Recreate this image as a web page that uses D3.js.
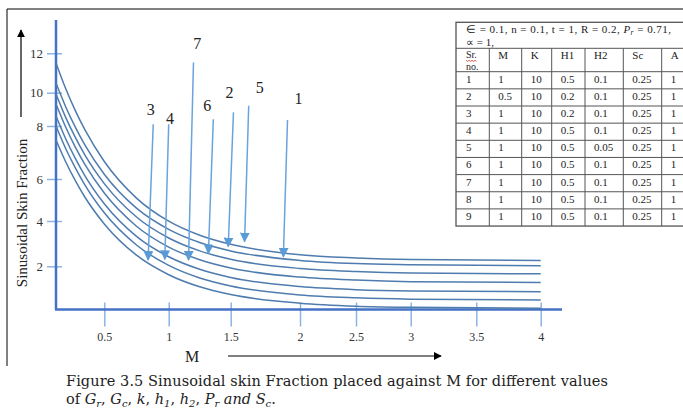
<!DOCTYPE html>
<html>
<head>
<meta charset="utf-8">
<script src="https://cdn.jsdelivr.net/npm/d3@7"></script>
<style>
  body { margin: 0; background: #fff; }
  svg { display: block; }
  text { font-family: "Liberation Serif", "Times New Roman", serif; }
  .wide { font-family: "DejaVu Serif", "Liberation Serif", serif; }
</style>
</head>
<body>
<script>
const width = 683;
const height = 410;

const mValues = [0, 0.1, 0.2, 0.3, 0.5, 0.75, 1, 1.25, 1.5, 2, 2.5, 3, 4];

// sinusoidal skin fraction, curves from top to bottom
const sf1 = [11.51, 10.21, 8.92, 7.85, 6.66, 5.09, 3.99, 3.37, 2.97, 2.51, 2.37, 2.30, 2.26];
const sf2 = [10.49, 9.16, 7.96, 7.28, 6.18, 4.61, 3.63, 3.05, 2.68, 2.26, 2.12, 2.07, 2.02];
const sf3 = [9.92, 8.52, 7.57, 6.90, 5.78, 4.19, 3.25, 2.68, 2.31, 1.90, 1.76, 1.69, 1.65];
const sf4 = [9.32, 7.96, 7.20, 6.54, 5.33, 3.77, 2.85, 2.29, 1.92, 1.50, 1.36, 1.29, 1.25];
const sf5 = [8.60, 7.52, 6.78, 6.12, 4.82, 3.32, 2.42, 1.86, 1.48, 1.06, 0.92, 0.86, 0.82];
const sf6 = [8.00, 7.15, 6.42, 5.71, 4.39, 2.94, 2.04, 1.46, 1.09, 0.67, 0.54, 0.48, 0.44];
const sf7 = [7.47, 6.65, 5.92, 5.13, 3.87, 2.49, 1.61, 1.05, 0.69, 0.29, 0.15, 0.10, 0.06];
const curves = [sf1, sf2, sf3, sf4, sf5, sf6, sf7];

const xTicks = [0.5, 1, 1.5, 2, 2.5, 3, 3.5, 4];
const yTicks = [2, 4, 6, 8, 10, 12];

// numbered pointer arrows: label spot, arrow start, arrow tip (M, value)
const arrowLabels = ["1", "2", "3", "4", "5", "6", "7"];
const labelAt = [[1.99, 9.66], [1.49, 10.02], [0.86, 9.02], [1.01, 8.46], [1.71, 10.27], [1.31, 9.26], [1.23, 12.51]];
const arrowFrom = [[1.91, 8.36], [1.52, 8.82], [0.88, 8.10], [1.00, 8.10], [1.63, 9.22], [1.36, 8.40], [1.20, 11.54]];
const arrowTo = [[1.88, 2.42], [1.48, 2.87], [0.84, 2.28], [0.97, 2.31], [1.60, 3.09], [1.32, 2.57], [1.16, 2.28]];

// parameter table
const tableHead = ["M", "K", "H1", "H2", "Sc", "A"];
const tableRows = [
  [1, 1, 10, 0.5, 0.1, 0.25, 1],
  [2, 0.5, 10, 0.2, 0.1, 0.25, 1],
  [3, 1, 10, 0.2, 0.1, 0.25, 1],
  [4, 1, 10, 0.5, 0.1, 0.25, 1],
  [5, 1, 10, 0.5, 0.05, 0.25, 1],
  [6, 1, 10, 0.5, 0.1, 0.25, 1],
  [7, 1, 10, 0.5, 0.1, 0.25, 1],
  [8, 1, 10, 0.5, 0.1, 0.25, 1],
  [9, 1, 10, 0.5, 0.1, 0.25, 1]
];

const svg = d3.select("body").append("svg")
  .attr("width", width)
  .attr("height", height);

// the hand-drawn axes are not evenly spaced, so piecewise scales
const x = d3.scaleLinear()
  .domain([0, 0.5, 1, 1.5, 2, 2.5, 3, 3.5, 4])
  .range([56, 104.3, 168.7, 230.7, 300, 356, 410.7, 476.3, 540.7]);
const y = d3.scaleLinear()
  .domain([0, 2, 4, 6, 8, 10, 12])
  .range([309.5, 266.3, 221, 179, 126, 92.7, 53.3]);

const defs = svg.append("defs");
function marker(id, color, size) {
  defs.append("marker")
    .attr("id", id)
    .attr("viewBox", "0 0 10 10")
    .attr("refX", 9)
    .attr("refY", 5)
    .attr("markerWidth", size)
    .attr("markerHeight", size)
    .attr("markerUnits", "userSpaceOnUse")
    .attr("orient", "auto")
    .append("path")
    .attr("d", "M0,0L10,5L0,10Z")
    .attr("fill", color);
}
marker("blueHead", "#5b9bd5", 10);
marker("blackHead", "#000", 8);

// frame
svg.append("path")
  .attr("d", "M7,366V9H690")
  .attr("fill", "none")
  .attr("stroke", "#000")
  .attr("stroke-width", 1);

// x ticks
const gx = svg.append("g")
  .attr("transform", `translate(0,${y(0)})`)
  .attr("font-family", null)
  .call(d3.axisBottom(x).tickValues(xTicks).tickSize(17).tickFormat(d => d));
gx.select(".domain").remove();
gx.selectAll(".tick line")
  .attr("y1", -7)
  .attr("stroke", "#8db4e2")
  .attr("stroke-width", 1.5);
gx.selectAll(".tick text")
  .attr("y", 31)
  .attr("dy", null)
  .attr("font-size", 12)
  .attr("fill", "#333");

// y ticks
const gy = svg.append("g")
  .attr("transform", `translate(${x(0)},0)`)
  .attr("font-family", null)
  .call(d3.axisLeft(y).tickValues(yTicks).tickSize(9).tickPadding(4));
gy.select(".domain").remove();
gy.selectAll(".tick line")
  .attr("x1", 6)
  .attr("stroke", "#8db4e2")
  .attr("stroke-width", 1.5);
gy.selectAll(".tick text")
  .attr("font-size", 13)
  .attr("fill", "#333");

// axis lines
svg.append("line")
  .attr("x1", x(0) - 1).attr("x2", 562)
  .attr("y1", y(0)).attr("y2", y(0))
  .attr("stroke", "#4472c4").attr("stroke-width", 2.5);
svg.append("line")
  .attr("x1", x(0)).attr("x2", x(0))
  .attr("y1", 20).attr("y2", y(0))
  .attr("stroke", "#4472c4").attr("stroke-width", 2.5);

// curves
const line = d3.line()
  .x((d, i) => x(mValues[i]))
  .y(d => y(d))
  .curve(d3.curveMonotoneX);

svg.append("g")
  .selectAll("path")
  .data(curves)
  .join("path")
  .attr("d", line)
  .attr("fill", "none")
  .attr("stroke", "#4f7cae")
  .attr("stroke-width", 1.5);

// numbered arrows
const pointers = svg.append("g");
pointers.selectAll("line")
  .data(arrowLabels)
  .join("line")
  .attr("x1", (d, i) => x(arrowFrom[i][0]))
  .attr("y1", (d, i) => y(arrowFrom[i][1]))
  .attr("x2", (d, i) => x(arrowTo[i][0]))
  .attr("y2", (d, i) => y(arrowTo[i][1]))
  .attr("stroke", "#6aa4dc")
  .attr("stroke-width", 1.5)
  .attr("marker-end", "url(#blueHead)");
pointers.selectAll("text")
  .data(arrowLabels)
  .join("text")
  .attr("x", (d, i) => x(labelAt[i][0]))
  .attr("y", (d, i) => y(labelAt[i][1]))
  .attr("dy", "0.35em")
  .attr("text-anchor", "middle")
  .attr("font-size", 16)
  .attr("fill", "#222")
  .text(d => d);

// axis titles with their black arrows
svg.append("text")
  .attr("transform", "translate(27,213) rotate(-90)")
  .attr("text-anchor", "middle")
  .attr("font-size", 15)
  .attr("fill", "#222")
  .text("Sinusoidal  Skin  Fraction");
svg.append("line")
  .attr("x1", 21).attr("x2", 21)
  .attr("y1", 117).attr("y2", 30)
  .attr("stroke", "#000").attr("stroke-width", 1.2)
  .attr("marker-end", "url(#blackHead)");

svg.append("text")
  .attr("x", 192)
  .attr("y", 362)
  .attr("text-anchor", "middle")
  .attr("font-size", 16)
  .attr("fill", "#222")
  .text("M");
svg.append("line")
  .attr("x1", 228).attr("x2", 441)
  .attr("y1", 356).attr("y2", 356)
  .attr("stroke", "#000").attr("stroke-width", 1.2)
  .attr("marker-end", "url(#blackHead)");

// caption
svg.append("text")
  .attr("class", "wide")
  .attr("x", 66)
  .attr("y", 386)
  .attr("font-size", 14.5)
  .attr("textLength", 542)
  .attr("lengthAdjust", "spacing")
  .attr("fill", "#222")
  .text("Figure 3.5 Sinusoidal skin Fraction placed against M for different values");

const capSymbols = [["G", "r"], ["G", "c"], ["k", ""], ["h", "1"], ["h", "2"], ["P", "r"]];
const cap2 = svg.append("text")
  .attr("class", "wide")
  .attr("x", 66)
  .attr("y", 404)
  .attr("font-size", 14.5)
  .attr("fill", "#222");
cap2.append("tspan").text("of ");
capSymbols.forEach(([s, sub], i) => {
  cap2.append("tspan").attr("font-style", "italic").text(s);
  if (sub) cap2.append("tspan").attr("font-style", "italic").attr("font-size", 10).attr("dy", 3).text(sub);
  cap2.append("tspan").attr("dy", sub ? -3 : 0).text(i < capSymbols.length - 1 ? ", " : " ");
});
cap2.append("tspan").attr("font-style", "italic").text("and S");
cap2.append("tspan").attr("font-style", "italic").attr("font-size", 10).attr("dy", 3).text("c");
cap2.append("tspan").attr("dy", -3).text(".");

// parameter table
const colX = [456, 489.3, 521.7, 551.7, 585, 623.3, 661.7, 700];
const rowTop = 71.7;
const rowH = 17.15;
const table = svg.append("g")
  .attr("font-size", 11)
  .attr("fill", "#222");
const gridColor = "#555";

table.append("rect")
  .attr("x", colX[0]).attr("y", 22.3)
  .attr("width", colX[7] - colX[0])
  .attr("height", rowTop + rowH * tableRows.length - 22.3)
  .attr("fill", "#fff")
  .attr("stroke", gridColor)
  .attr("stroke-width", 1.3);
table.selectAll("line.h")
  .data(d3.range(tableRows.length + 1))
  .join("line")
  .attr("class", "h")
  .attr("x1", colX[0]).attr("x2", colX[7])
  .attr("y1", i => i === 0 ? 48.3 : rowTop + rowH * (i - 1))
  .attr("y2", i => i === 0 ? 48.3 : rowTop + rowH * (i - 1))
  .attr("stroke", gridColor);
table.selectAll("line.v")
  .data(colX.slice(1, 7))
  .join("line")
  .attr("class", "v")
  .attr("x1", d => d).attr("x2", d => d)
  .attr("y1", 48.3)
  .attr("y2", rowTop + rowH * tableRows.length)
  .attr("stroke", gridColor);

const head1 = table.append("text")
  .attr("x", 466).attr("y", 33)
  .attr("textLength", 205)
  .attr("lengthAdjust", "spacing");
head1.append("tspan").text("\u2208 = 0.1, n = 0.1, t = 1, R = 0.2, ");
head1.append("tspan").attr("font-style", "italic").text("P");
head1.append("tspan").attr("font-style", "italic").attr("font-size", 7.5).attr("dy", 2).text("r");
head1.append("tspan").attr("dy", -2).text(" = 0.71,");
table.append("text").attr("x", 466).attr("y", 46).text("\u221D = 1,");

table.append("text").attr("x", colX[0] + 10).attr("y", 58).attr("font-size", 10).text("Sr.");
table.append("text").attr("x", colX[0] + 10).attr("y", 70).attr("font-size", 10).text("no.");
table.append("path")
  .attr("d", d3.line()(d3.range(0, 12, 1.5).map((d, i) => [colX[0] + 10 + d, 60.5 + (i % 2 ? 0.9 : -0.2)])))
  .attr("fill", "none")
  .attr("stroke", "#d33")
  .attr("stroke-width", 0.8);
table.selectAll("text.head")
  .data(tableHead)
  .join("text")
  .attr("class", "head")
  .attr("x", (d, i) => colX[i + 1] + 9)
  .attr("y", 59)
  .text(d => d);

table.selectAll("g.row")
  .data(tableRows)
  .join("g")
  .attr("class", "row")
  .attr("transform", (d, i) => `translate(0,${rowTop + rowH * i + 11})`)
  .selectAll("text")
  .data(d => d)
  .join("text")
  .attr("x", (d, i) => colX[i] + (i === 0 ? 10 : 9))
  .text(d => d);
</script>
</body>
</html>
